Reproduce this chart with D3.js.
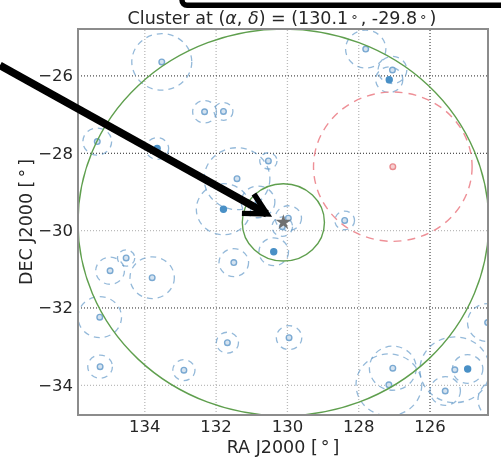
<!DOCTYPE html>
<html>
<head>
<meta charset="utf-8">
<script src="https://cdnjs.cloudflare.com/ajax/libs/d3/7.8.5/d3.min.js"></script>
<style>
  html, body { margin: 0; padding: 0; background: #fff; }
  svg { display: block; }
  text { font-family: "DejaVu Sans", sans-serif; fill: #262626; }
</style>
</head>
<body>
<div class="sky-chart"></div>
<script>
//Data
const centerRa = 130.1
const centerDec = -29.8
const fieldRadii = [5, 1]

const clusterRa  = [133.51,132.31,131.78,135.32,133.64,131.40,131.78,130.52,129.96,130.13,130.81,130.37,131.49,133.78,134.51,134.96,135.25,135.24,132.89,131.67,129.94,127.79,127.04,127.13,128.38,127.03,127.14,125.29,124.93,125.56,124.37,124.03]
const clusterDec = [-25.65,-26.94,-26.93,-27.71,-27.89,-28.67,-29.46,-28.21,-29.69,-29.91,-29.27,-30.56,-30.84,-31.23,-30.72,-31.05,-32.25,-33.53,-33.62,-32.91,-32.78,-25.32,-25.86,-26.11,-29.75,-33.57,-34.00,-33.61,-33.59,-34.16,-32.39,-34.39]
const clusterRad = [0.73,0.29,0.23,0.35,0.28,0.80,0.66,0.21,0.32,0.25,0.41,0.36,0.36,0.54,0.21,0.35,0.53,0.30,0.27,0.27,0.31,0.49,0.35,0.33,0.24,0.57,0.80,0.85,0.37,0.37,0.49,0.53]
const clusterSolid = [0,0,0,0,1,0,1,0,0,0,0,1,0,0,0,0,0,0,0,0,0,0,0,1,0,0,0,0,1,0,0,0]

const redRa = [127.03]
const redDec = [-28.36]
const redRad = [1.93]

const raTicks = [134, 132, 130, 128, 126]
const decTicks = [-26, -28, -30, -32, -34]

//Annotation arrow, in sky coordinates (tail, tip, two barbs)
const arrowRa = [138.05, 130.56, 130.925, 131.262]
const arrowDec = [-25.74, -29.58, -29.063, -29.567]

//Grid lines that come out darker in the picture
const darkRa = [126]
const darkDec = [-26, -28, -32]

//Margin Convention
const margin = {top: 29, right: 13, bottom: 47, left: 78};
const width = 501 - margin.left - margin.right;
const height = 462 - margin.top - margin.bottom;

//Scales
const xScale = d3.scaleLinear([135.86, 124.36], [0, width])
const yScale = d3.scaleLinear([-24.8, -34.78], [0, height])

const raStretch = 1 / Math.cos(centerDec * Math.PI / 180)
const rx = d => Math.abs(xScale(0) - xScale(d * raStretch))
const ry = d => Math.abs(yScale(0) - yScale(d))

const svg = d3.select('.sky-chart')
    .append('svg')
    .attr('width', 501)
    .attr('height', 462)

//The picture is a little soft all over
svg.append('filter').attr('id', 'soft')
    .attr('x', 0).attr('y', 0).attr('width', '100%').attr('height', '100%')
    .append('feGaussianBlur').attr('stdDeviation', 0.35)

const page = svg.append('g').attr('filter', 'url(#soft)')

page.append('rect').attr('width', 501).attr('height', 462).style('fill', '#fff')

const chart = page.append('g')
    .attr('transform', `translate(${margin.left}, ${margin.top})`)

chart.append('clipPath').attr('id', 'plot-clip')
    .append('rect')
    .attr('width', width)
    .attr('height', height)

//Draw Axes
const xAxis = d3.axisBottom(xScale).tickValues(raTicks).tickSize(-height).tickPadding(5).tickFormat(d3.format('d'))
const yAxis = d3.axisLeft(yScale).tickValues(decTicks).tickSize(-width).tickPadding(5).tickFormat(d => '\u2212' + Math.abs(d))

const xAxisDraw = chart.append('g').attr('transform', `translate(0, ${height})`).call(xAxis)
const yAxisDraw = chart.append('g').call(yAxis)

xAxisDraw.select('.domain').remove()
yAxisDraw.select('.domain').remove()

xAxisDraw.selectAll('.tick line')
    .attr('stroke', d => darkRa.includes(d) ? '#222' : '#bbb')
    .attr('stroke-width', d => darkRa.includes(d) ? 1 : 1.3)
    .attr('stroke-dasharray', '1,2')
yAxisDraw.selectAll('.tick line')
    .attr('stroke', d => darkDec.includes(d) ? '#222' : '#bbb')
    .attr('stroke-width', d => darkDec.includes(d) ? 1 : 1.3)
    .attr('stroke-dasharray', '1,2')

xAxisDraw.selectAll('text').style('font-size', '16.5px').attr('font-family', null)
yAxisDraw.selectAll('text').style('font-size', '16.5px').attr('font-family', null)

//Draw clusters
const plot = chart.append('g').attr('clip-path', 'url(#plot-clip)')

plot.selectAll('.cluster-ring')
    .data(clusterRa)
    .enter()
    .append('ellipse')
    .attr('class', 'cluster-ring')
    .attr('cx', d => xScale(d))
    .attr('cy', (d, i) => yScale(clusterDec[i]))
    .attr('rx', (d, i) => rx(clusterRad[i]))
    .attr('ry', (d, i) => ry(clusterRad[i]))
    .style('fill', 'none')
    .style('stroke', '#5b94c4')
    .style('stroke-opacity', 0.65)
    .style('stroke-width', 1.3)
    .style('stroke-dasharray', '6,5')

plot.selectAll('.cluster-dot')
    .data(clusterRa)
    .enter()
    .append('circle')
    .attr('class', 'cluster-dot')
    .attr('cx', d => xScale(d))
    .attr('cy', (d, i) => yScale(clusterDec[i]))
    .attr('r', (d, i) => clusterSolid[i] ? 3 : 2.8)
    .style('fill', (d, i) => clusterSolid[i] ? '#4a90c6' : '#d5e3f0')
    .style('stroke', (d, i) => clusterSolid[i] ? '#4a90c6' : '#7aa9d2')
    .style('stroke-width', 1.4)

//Draw field circles
plot.selectAll('.field')
    .data(fieldRadii)
    .enter()
    .append('ellipse')
    .attr('class', 'field')
    .attr('cx', xScale(centerRa))
    .attr('cy', yScale(centerDec))
    .attr('rx', d => rx(d))
    .attr('ry', d => ry(d))
    .style('fill', 'none')
    .style('stroke', '#5f9f4e')
    .style('stroke-width', 1.4)

//Draw red cluster
plot.selectAll('.red-ring')
    .data(redRa)
    .enter()
    .append('ellipse')
    .attr('class', 'red-ring')
    .attr('cx', d => xScale(d))
    .attr('cy', (d, i) => yScale(redDec[i]))
    .attr('rx', (d, i) => rx(redRad[i]))
    .attr('ry', (d, i) => ry(redRad[i]))
    .style('fill', 'none')
    .style('stroke', '#ee8f96')
    .style('stroke-width', 1.4)
    .style('stroke-dasharray', '8,6')

plot.selectAll('.red-dot')
    .data(redRa)
    .enter()
    .append('circle')
    .attr('class', 'red-dot')
    .attr('cx', d => xScale(d))
    .attr('cy', (d, i) => yScale(redDec[i]))
    .attr('r', 2.8)
    .style('fill', '#f6cfd0')
    .style('stroke', '#e98a8e')
    .style('stroke-width', 1.4)

//Centre star
chart.append('path')
    .attr('d', d3.symbol(d3.symbolStar, 75))
    .attr('transform', `translate(${xScale(centerRa)}, ${yScale(centerDec)})`)
    .style('fill', '#6f6f6f')

//Spines
chart.append('rect')
    .attr('width', width)
    .attr('height', height)
    .style('fill', 'none')
    .style('stroke', '#8c8c8c')
    .style('stroke-width', 2)

//Header and labels
const title = page.append('text')
    .attr('x', 282)
    .attr('y', 24)
    .attr('text-anchor', 'middle')
    .style('font-size', '17.5px')

title.append('tspan').text('Cluster at (')
title.append('tspan').text('\u03b1').style('font-style', 'italic')
title.append('tspan').text(', ')
title.append('tspan').text('\u03b4').style('font-style', 'italic')
title.append('tspan').text(') = (130.1')
title.append('tspan').text('\u00b0').style('font-size', '13px').attr('dx', 3)
title.append('tspan').text(', -29.8').attr('dx', 3)
title.append('tspan').text('\u00b0').style('font-size', '13px').attr('dx', 3)
title.append('tspan').text(')').attr('dx', 3)

const xLabel = page.append('text')
    .attr('x', 283)
    .attr('y', 453)
    .attr('text-anchor', 'middle')
    .style('font-size', '17.5px')
xLabel.append('tspan').text('RA J2000 [')
xLabel.append('tspan').text('\u00b0').attr('dx', 3)
xLabel.append('tspan').text(']').attr('dx', 3)

const yLabel = page.append('text')
    .attr('transform', 'translate(32, 222) rotate(-90)')
    .attr('text-anchor', 'middle')
    .style('font-size', '17.5px')
yLabel.append('tspan').text('DEC J2000 [')
yLabel.append('tspan').text('\u00b0').attr('dx', 3)
yLabel.append('tspan').text(']').attr('dx', 3)

//Black arrow drawn over the figure
const arrowX = arrowRa.map(d => margin.left + xScale(d))
const arrowY = arrowDec.map(d => margin.top + yScale(d))

const arrowLine = d3.line()
page.append('path')
    .attr('d', arrowLine([[arrowX[0], arrowY[0]], [arrowX[1], arrowY[1]]]))
    .style('fill', 'none').style('stroke', '#000').style('stroke-width', 7.5)
page.append('path')
    .attr('d', arrowLine([[arrowX[2], arrowY[2]], [arrowX[1], arrowY[1]], [arrowX[3], arrowY[3]]]))
    .style('fill', 'none').style('stroke', '#000').style('stroke-width', 5.5)
    .style('stroke-linejoin', 'miter')

//Black box cut off by the top of the picture
page.append('rect')
    .attr('x', 182)
    .attr('y', -30)
    .attr('width', 400)
    .attr('height', 35.3)
    .attr('rx', 5)
    .style('fill', 'none')
    .style('stroke', '#000')
    .style('stroke-width', 5.4)
</script>
</body>
</html>
